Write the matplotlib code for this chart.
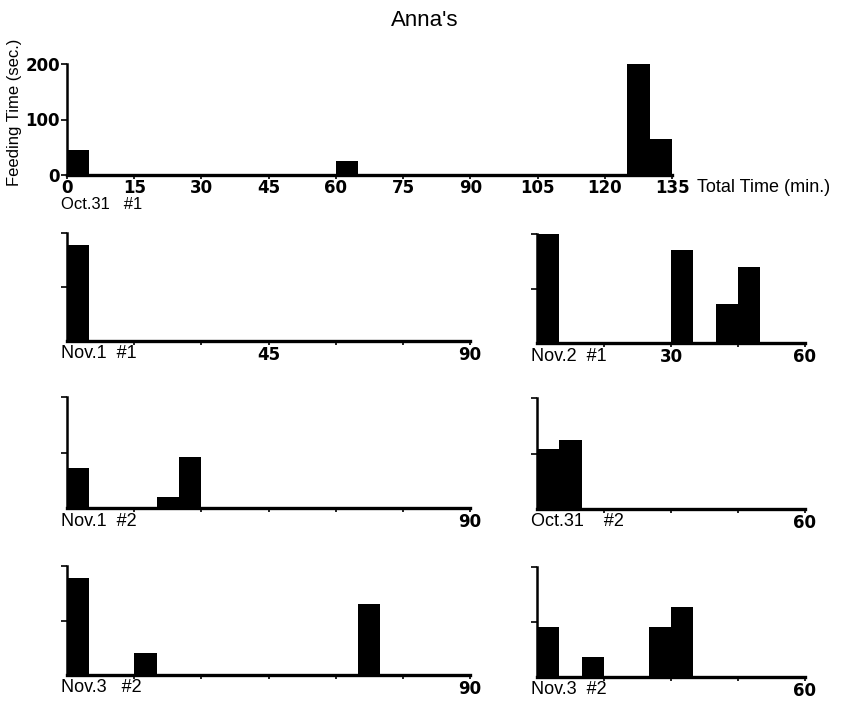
import matplotlib.pyplot as plt

# feeding bouts: start minute of each 5-min bin and feeding time (sec.)
top_starts = [0, 60, 125, 130]
top_heights = [45, 26, 200, 65]

nov1a_starts = [0]
nov1a_heights = [178]

nov2a_starts = [0, 30, 40, 45]
nov2a_heights = [200, 170, 72, 139]

nov1b_starts = [0, 20, 25]
nov1b_heights = [72, 20, 91]

oct31b_starts = [0, 5]
oct31b_heights = [109, 125]

nov3l_starts = [0, 15, 65]
nov3l_heights = [178, 40, 130]

nov3r_starts = [0, 10, 25, 30]
nov3r_heights = [91, 36, 91, 127]

top_ticks = [0, 15, 30, 45, 60, 75, 90, 105, 120, 135]

W, H = 851, 702
fig = plt.figure(figsize=(W / 100, H / 100), dpi=100)

regular = "Liberation Sans"
bold = "DejaVu Sans"


def make_axes(x0, x1, ybase, ytop):
    return fig.add_axes([x0 / W, 1 - ybase / H, (x1 - x0) / W, (ybase - ytop) / H])


def style(ax, xmax, ticks, labels):
    ax.set_xlim(0, xmax)
    ax.set_ylim(0, 200)
    for s in ["top", "right"]:
        ax.spines[s].set_visible(False)
    ax.spines["bottom"].set_linewidth(2.4)
    ax.spines["left"].set_linewidth(1.8)
    ax.set_xticks(ticks)
    ax.set_xticklabels(labels, fontfamily=bold, fontweight="bold", fontsize=12)
    ax.tick_params(axis="x", length=3, width=1.2, pad=0.5)
    ax.tick_params(axis="y", length=4, width=1.2)


def bars(ax, starts, heights):
    ax.bar(starts, heights, width=5, align="edge", color="black", clip_on=False)


# top panel
ax = make_axes(67, 672, 175, 64)
bars(ax, top_starts, top_heights)
style(ax, 135, top_ticks, [str(t) for t in top_ticks])
ax.tick_params(axis="x", pad=0)
ax.set_yticks([0, 100, 200])
ax.set_yticklabels(["0", "100", "200"], fontfamily=bold, fontweight="bold", fontsize=12)
ax.tick_params(axis="y", pad=1)

left_ticks = [15, 30, 45, 60, 75, 90]
right_ticks = [15, 30, 45, 60]

panels = [
    (67, 470, 341, 233, 90, nov1a_starts, nov1a_heights, ["", "", "45", "", "", "90"], "Nov.1  #1"),
    (537, 805, 343, 234, 60, nov2a_starts, nov2a_heights, ["", "30", "", "60"], "Nov.2  #1"),
    (67, 470, 508, 397, 90, nov1b_starts, nov1b_heights, ["", "", "", "", "", "90"], "Nov.1  #2"),
    (537, 805, 509, 398, 60, oct31b_starts, oct31b_heights, ["", "", "", "60"], "Oct.31    #2"),
    (67, 470, 675, 566, 90, nov3l_starts, nov3l_heights, ["", "", "", "", "", "90"], "Nov.3   #2"),
    (537, 805, 677, 567, 60, nov3r_starts, nov3r_heights, ["", "", "", "60"], "Nov.3  #2"),
]

for x0, x1, yb, yt, xmax, st, hs, labs, name in panels:
    ax = make_axes(x0, x1, yb, yt)
    bars(ax, st, hs)
    style(ax, xmax, left_ticks if xmax == 90 else right_ticks, labs)
    ax.set_yticks([100, 200])
    ax.set_yticklabels(["", ""])
    fig.text((x0 - 6) / W, 1 - (yb + 13) / H, name, fontfamily=regular,
             fontsize=13, ha="left", va="center")

fig.text(425 / W, 1 - 20 / H, "Anna's", fontfamily=regular, fontsize=16,
         ha="center", va="center")
fig.text(15 / W, 1 - 112 / H, "Feeding Time (sec.)", fontfamily=regular,
         fontsize=12, rotation=90, ha="center", va="center")
fig.text(697 / W, 1 - 188 / H, "Total Time (min.)", fontfamily=regular,
         fontsize=13, ha="left", va="center")
fig.text(61 / W, 1 - 204 / H, "Oct.31   #1", fontfamily=regular,
         fontsize=12, ha="left", va="center")

fig.savefig("out.png", dpi=100)
